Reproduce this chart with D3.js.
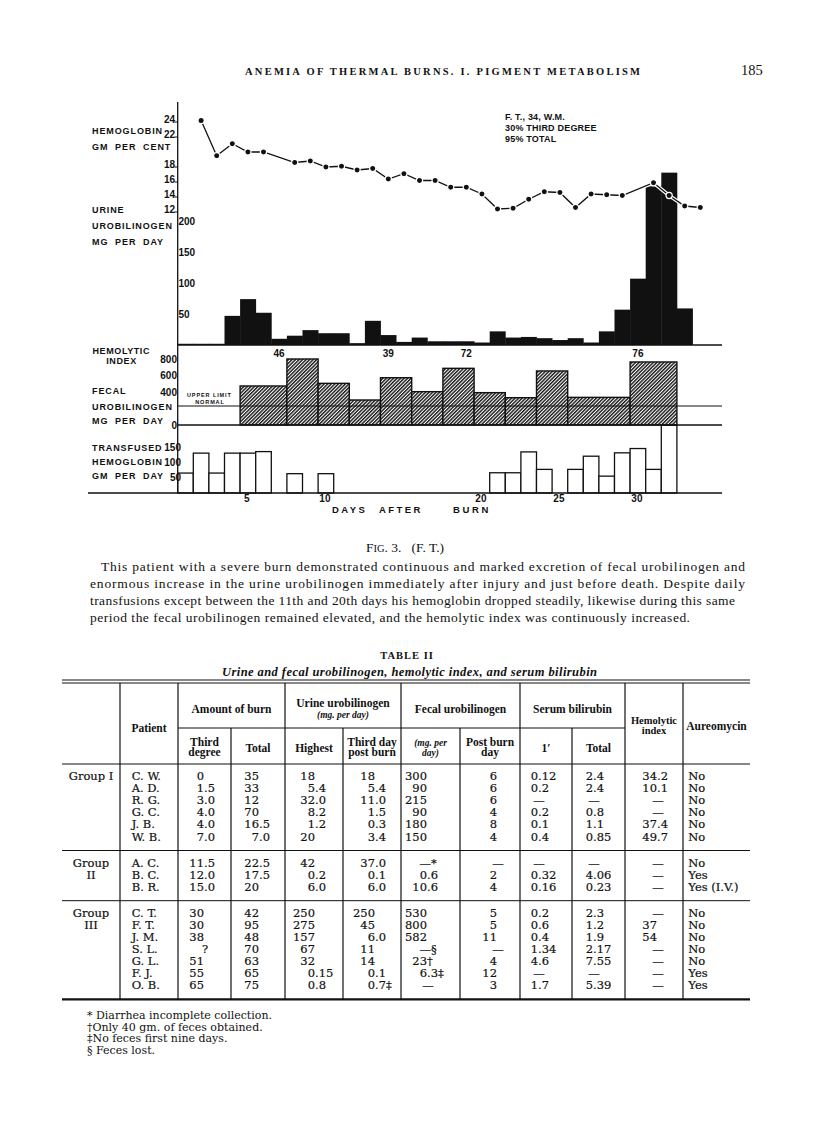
<!DOCTYPE html>
<html>
<head>
<meta charset="utf-8">
<script src="https://cdn.jsdelivr.net/npm/d3@7/dist/d3.min.js"></script>
<style>
body { margin: 0; background: #fff; }
</style>
</head>
<body>
<div id="page"></div>
<script>
// ---- Fig. 3 (F.T.) : values ----
var hbDays = [2,3,4,5,6,8,9,10,11,12,13,14,15,16,17,18,19,20,21,22,23,24,25,26,27,28,29,31,32,33,34];
var hbValues = [23.8,19.1,20.7,19.6,19.6,18.2,18.4,17.6,17.7,17.2,17.4,16.0,16.7,15.8,15.8,14.9,14.9,14.0,12.0,12.1,13.3,14.3,14.2,12.2,14.0,13.9,13.8,15.5,13.8,12.4,12.2];

var urineDays = [1,2,3,4,5,6,7,8,9,10,11,12,13,14,15,16,17,18,19,20,21,22,23,24,25,26,27,28,29,30,31,32,33];
var urineValues = [2,2,2,47,74,52,10,15,24,19,19,3,39,16,5,12,6,6,6,4,22,12,13,11,8,11,4,22,57,107,256,278,59];

var fecalStart = [5,8,10,12,14,16,18,20,22,24,26,30];
var fecalEnd = [7,9,11,13,15,17,19,21,23,25,29,32];
var fecalValues = [473,800,505,303,573,404,687,392,331,655,335,764];
var upperLimitNormal = 230;

var hemolyticDays = [7,14,19,30];
var hemolyticValues = [46,39,72,76];

var transDays = [1,2,3,4,5,6,8,10,21,22,23,24,26,27,28,29,30,31,32];
var transValues = [65,130,65,130,130,135,63,63,66,66,134,77,77,120,55,131,145,77,221];

var hbTicks = [24,22,18,16,14,12];
var urineTicks = [200,150,100,50];
var fecalTicks = [800,600,400,0];
var transTicks = [150,100,50];
var dayTicks = [5,10,20,25,30];

// ---- Table II ----
var groupNames = ['Group I','Group II','Group III'];
var groupOf = [0,0,0,0,0,0,1,1,1,2,2,2,2,2,2,2];
var patients = ['C. W.','A. D.','R. G.','G. C.','J. B.','W. B.','A. C.','B. C.','B. R.','C. T.','F. T.','J. M.','S. L.','G. L.','F. J.','O. B.'];
var burnThird = ['0','1.5','3.0','4.0','4.0','7.0','11.5','12.0','15.0','30','30','38','?','51','55','65'];
var burnTotal = ['35','33','12','70','16.5','7.0','22.5','17.5','20','42','95','48','70','63','65','75'];
var urineHighest = ['18','5.4','32.0','8.2','1.2','20','42','0.2','6.0','250','275','157','67','32','0.15','0.8'];
var urineDay3 = ['18','5.4','11.0','1.5','0.3','3.4','37.0','0.1','6.0','250','45','6.0','11','14','0.1','0.7\u2021'];
var fecalMg = ['300','90','215','90','180','150','\u2014*','0.6','10.6','530','800','582','\u2014\u00a7','23\u2020','6.3\u2021','\u2014'];
var fecalDay = ['6','6','6','4','8','4','\u2014','2','4','5','5','11','\u2014','4','12','3'];
var bili1 = ['0.12','0.2','\u2014','0.2','0.1','0.4','\u2014','0.32','0.16','0.2','0.6','0.4','1.34','4.6','\u2014','1.7'];
var biliTotal = ['2.4','2.4','\u2014','0.8','1.1','0.85','\u2014','4.06','0.23','2.3','1.2','1.9','2.17','7.55','\u2014','5.39'];
var hemolyticIdx = ['34.2','10.1','\u2014','\u2014','37.4','49.7','\u2014','\u2014','\u2014','\u2014','37','54','\u2014','\u2014','\u2014','\u2014'];
var aureomycin = ['No','No','No','No','No','No','No','Yes','Yes (I.V.)','No','No','No','No','No','Yes','Yes'];

var footnotes = ['* Diarrhea incomplete collection.', '\u2020Only 40 gm. of feces obtained.', '\u2021No feces first nine days.', '\u00a7 Feces lost.'];

var W = 816, H = 1121;
var sans = '"Liberation Sans", Arial, sans-serif';
var serif = '"Liberation Serif", "Times New Roman", serif';
var tserif = '"DejaVu Serif", serif';
var ink = '#111';

var svg = d3.select('#page').append('svg')
	.attr('width', W).attr('height', H)
	.attr('viewBox', '0 0 ' + W + ' ' + H);
svg.append('rect').attr('width', W).attr('height', H).attr('fill', '#fff');

// hatch for fecal bars
var pat = svg.append('defs').append('pattern')
	.attr('id', 'hatch')
	.attr('patternUnits', 'userSpaceOnUse')
	.attr('width', 2.5).attr('height', 2.5)
	.attr('patternTransform', 'rotate(45)');
pat.append('rect').attr('width', 2.5).attr('height', 2.5).attr('fill', '#fff');
pat.append('line').attr('x1', 0.7).attr('y1', 0).attr('x2', 0.7).attr('y2', 2.5)
	.attr('stroke', '#1a1a1a').attr('stroke-width', 1.5);

function txt(g, s, x, y, size, opts) {
	opts = opts || {};
	return g.append('text')
		.attr('x', x).attr('y', y)
		.attr('font-family', opts.family || sans)
		.attr('font-size', size)
		.attr('font-weight', opts.weight || 'bold')
		.attr('font-style', opts.style || 'normal')
		.attr('letter-spacing', opts.ls || 0)
		.attr('text-anchor', opts.anchor || 'start')
		.attr('fill', ink)
		.text(s);
}

// ---- running head ----
txt(svg, 'ANEMIA OF THERMAL BURNS.  I. PIGMENT METABOLISM', 245, 75, 10.5, {family: serif})
	.attr('textLength', 395).attr('lengthAdjust', 'spacing');
txt(svg, '185', 741, 75, 14.5, {family: serif, weight: 'normal'});

// ---- chart ----
var chart = svg.append('g');
var x = d3.scaleLinear().domain([0, 34]).range([177.7, 708.1]);
var xRight = 722;
var yHb = d3.scaleLinear().domain([12, 24]).range([209, 119]);
var yUr = d3.scaleLinear().domain([0, 200]).range([345, 221]);
var yFe = d3.scaleLinear().domain([0, 800]).range([425, 359]);
var yTr = d3.scaleLinear().domain([0, 150]).range([493, 447]);

// urine urobilinogen (black histogram)
chart.selectAll('.urine').data(urineDays).enter().append('rect')
	.attr('x', function (d) { return x(d - 1); })
	.attr('width', function (d) { return x(d) - x(d - 1) + 0.4; })
	.attr('y', function (d, i) { return yUr(urineValues[i]); })
	.attr('height', function (d, i) { return yUr(0) - yUr(urineValues[i]); })
	.attr('fill', ink);

// fecal urobilinogen (hatched blocks)
chart.selectAll('.fecal').data(fecalValues).enter().append('rect')
	.attr('x', function (d, i) { return x(fecalStart[i] - 1); })
	.attr('width', function (d, i) { return x(fecalEnd[i]) - x(fecalStart[i] - 1); })
	.attr('y', function (d) { return yFe(d); })
	.attr('height', function (d) { return yFe(0) - yFe(d); })
	.attr('fill', 'url(#hatch)')
	.attr('stroke', ink).attr('stroke-width', 1.4);

// transfused hemoglobin (open bars)
chart.selectAll('.trans').data(transDays).enter().append('rect')
	.attr('x', function (d) { return x(d - 1); })
	.attr('width', function (d) { return x(d) - x(d - 1); })
	.attr('y', function (d, i) { return yTr(transValues[i]); })
	.attr('height', function (d, i) { return yTr(0) - yTr(transValues[i]); })
	.attr('fill', '#fff')
	.attr('stroke', ink).attr('stroke-width', 1.3);

// axis and base lines
function hline(y, x1, x2, w) {
	chart.append('line').attr('x1', x1).attr('x2', x2).attr('y1', y).attr('y2', y)
		.attr('stroke', ink).attr('stroke-width', w);
}
chart.append('line').attr('x1', x(0)).attr('x2', x(0)).attr('y1', 102).attr('y2', yTr(0))
	.attr('stroke', ink).attr('stroke-width', 1.3);
hline(yUr(0), x(0), xRight, 1.4);
hline(yFe(upperLimitNormal), x(0), xRight, 1.1);
hline(yFe(0), x(0), xRight, 1.6);
hline(yTr(0), 88, xRight, 1.6);

// hemoglobin line
var hbPts = hbDays.map(function (d, i) { return [x(d - 0.5), yHb(hbValues[i])]; });
var line = d3.line();
chart.append('path').attr('d', line(hbPts)).attr('fill', 'none')
	.attr('stroke', '#fff').attr('stroke-width', 3.6);
chart.append('path').attr('d', line(hbPts)).attr('fill', 'none')
	.attr('stroke', ink).attr('stroke-width', 1.3);
chart.selectAll('.hb').data(hbPts).enter().append('circle')
	.attr('cx', function (d) { return d[0]; })
	.attr('cy', function (d) { return d[1]; })
	.attr('r', 3.1)
	.attr('fill', ink)
	.attr('stroke', '#fff').attr('stroke-width', 1.2);

// tick labels
chart.selectAll('.hbt').data(hbTicks).enter().append('text')
	.attr('x', 175).attr('y', function (d) { return yHb(d) + 3.5; })
	.attr('text-anchor', 'end').attr('font-family', sans).attr('font-weight', 'bold')
	.attr('font-size', 10).attr('fill', ink).text(function (d) { return d; });
chart.selectAll('.hbk').data(hbTicks).enter().append('line')
	.attr('x1', 174.5).attr('x2', x(0)).attr('y1', function (d) { return yHb(d) + 3; })
	.attr('y2', function (d) { return yHb(d) + 3; })
	.attr('stroke', ink).attr('stroke-width', 1);
chart.selectAll('.urt').data(urineTicks).enter().append('text')
	.attr('x', 178.5).attr('y', function (d) { return yUr(d) + 3.5; })
	.attr('font-family', sans).attr('font-weight', 'bold')
	.attr('font-size', 10).attr('fill', ink).text(function (d) { return d; });
chart.selectAll('.fet').data(fecalTicks).enter().append('text')
	.attr('x', 177).attr('y', function (d) { return yFe(d) + 3.5; })
	.attr('text-anchor', 'end').attr('font-family', sans).attr('font-weight', 'bold')
	.attr('font-size', 10).attr('fill', ink).text(function (d) { return d; });
chart.selectAll('.trt').data(transTicks).enter().append('text')
	.attr('x', 181).attr('y', function (d) { return yTr(d) + 3.5; })
	.attr('text-anchor', 'end').attr('font-family', sans).attr('font-weight', 'bold')
	.attr('font-size', 10).attr('fill', ink).text(function (d) { return d; });
chart.selectAll('.dayt').data(dayTicks).enter().append('text')
	.attr('x', function (d) { return x(d - 0.5) - 1; }).attr('y', 502)
	.attr('text-anchor', 'middle').attr('font-family', sans).attr('font-weight', 'bold')
	.attr('font-size', 10).attr('fill', ink).text(function (d) { return d; });

// hemolytic index values
chart.selectAll('.hem').data(hemolyticValues).enter().append('text')
	.attr('x', function (d, i) { return x(hemolyticDays[i] - 0.5); }).attr('y', 357)
	.attr('text-anchor', 'middle').attr('font-family', sans).attr('font-weight', 'bold')
	.attr('font-size', 10).attr('fill', ink).text(function (d) { return d; });

// left titles
var lab = 9;
[['HEMOGLOBIN', 134], ['GM  PER  CENT', 149.5],
 ['URINE', 212.5], ['UROBILINOGEN', 229.3], ['MG  PER  DAY', 245],
 ['FECAL', 394], ['UROBILINOGEN', 410], ['MG  PER  DAY', 424],
 ['TRANSFUSED', 450.7], ['HEMOGLOBIN', 464.5], ['GM  PER  DAY', 479]
].forEach(function (r) {
	txt(chart, r[0], 92, r[1], lab, {ls: 0.9}).style('white-space', 'pre');
});
txt(chart, 'HEMOLYTIC', 92.5, 354, lab, {ls: 0.6});
txt(chart, 'INDEX', 121.5, 363.5, lab, {ls: 0.6, anchor: 'middle'});
txt(chart, 'UPPER LIMIT', 187, 396.5, 5.5, {ls: 0.9});
txt(chart, 'NORMAL', 210, 403.5, 5.5, {ls: 0.9, anchor: 'middle'});
txt(chart, 'DAYS', 332, 513, 9.5, {ls: 2.4});
txt(chart, 'AFTER', 379, 513, 9.5, {ls: 2.4});
txt(chart, 'BURN', 453, 513, 9.5, {ls: 2.6});

txt(chart, 'F. T., 34, W.M.', 505, 119.5, 9, {ls: 0.2});
txt(chart, '30% THIRD DEGREE', 505, 130.5, 9, {ls: 0.2});
txt(chart, '95% TOTAL', 505, 141.5, 9, {ls: 0.2});

// ---- caption ----
var cap = svg.append('text').attr('x', 405).attr('y', 552).attr('text-anchor', 'middle')
	.attr('font-family', serif).attr('fill', ink).attr('font-size', 13.5);
cap.append('tspan').text('F');
cap.append('tspan').attr('font-size', 10.5).text('IG');
cap.append('tspan').text('. 3.   (F. T.)').style('white-space', 'pre');

var para = [
	['This patient with a severe burn demonstrated continuous and marked excretion of fecal urobilinogen and', 101, 644],
	['enormous increase in the urine urobilinogen immediately after injury and just before death.  Despite daily', 90, 655],
	['transfusions except between the 11th and 20th days his hemoglobin dropped steadily, likewise during this same', 90, 645],
	['period the fecal urobilinogen remained elevated, and the hemolytic index was continuously increased.', 90, 600]
];
para.forEach(function (p, i) {
	svg.append('text').attr('x', p[1]).attr('y', 571 + i * 17)
		.attr('font-family', serif).attr('font-size', 13.5).attr('fill', ink)
		.attr('textLength', p[2]).attr('lengthAdjust', 'spacing')
		.text(p[0]);
});

// ---- Table II ----
var tb = svg.append('g');
txt(tb, 'TABLE II', 407, 659, 10.5, {family: serif, anchor: 'middle', ls: 1});
txt(tb, 'Urine and fecal urobilinogen, hemolytic index, and serum bilirubin', 222, 676, 12.5,
	{family: serif, style: 'italic'}).attr('textLength', 375).attr('lengthAdjust', 'spacing');

var tL = 62, tR = 750;
function tline(x1, y1, x2, y2, w) {
	tb.append('line').attr('x1', x1).attr('y1', y1).attr('x2', x2).attr('y2', y2)
		.attr('stroke', ink).attr('stroke-width', w);
}
tline(tL, 680, tR, 680, 1);
tline(tL, 683, tR, 683, 1);
tline(178, 728, 625, 728, 1);
tline(tL, 764, tR, 764, 1.1);

// row baselines
var rowH = 12.1;
var rowY = [], ruleY = [], groupFirst = [];
var yCur = 764;
groupNames.forEach(function (g, gi) {
	var rows = patients.filter(function (p, i) { return groupOf[i] === gi; }).length;
	var first = yCur + 16;
	groupFirst.push(first);
	for (var r = 0; r < rows; r++) rowY.push(first + r * rowH);
	yCur = first + (rows - 1) * rowH + 10;
	ruleY.push(yCur);
});
ruleY.forEach(function (y, i) {
	tline(tL, y, tR, y, i === ruleY.length - 1 ? 2.2 : 1);
});
var bottom = ruleY[ruleY.length - 1];
[120, 178, 285, 401, 520, 625, 683].forEach(function (vx) { tline(vx, 683, vx, bottom, 1.2); });
[231, 343, 460, 572].forEach(function (vx) { tline(vx, 728, vx, bottom, 1.2); });

// header
var hf = {family: serif, anchor: 'middle'};
var hs = 11.5;
[['Patient', 149, 732], ['Amount of burn', 231.5, 713], ['Third', 204.5, 746], ['degree', 204.5, 756],
 ['Total', 258, 751.5], ['Urine urobilinogen', 343, 707], ['Highest', 314, 751.5],
 ['Third day', 372, 746], ['post burn', 372, 756], ['Fecal urobilinogen', 460.5, 713],
 ['Post burn', 490, 746], ['day', 490, 756], ['Serum bilirubin', 572.5, 713],
 ['1\u2032', 546, 751.5], ['Total', 598.5, 751.5], ['Aureomycin', 716.5, 729.5]
].forEach(function (h) { txt(tb, h[0], h[1], h[2], hs, hf); });
txt(tb, 'Hemolytic', 654, 723.5, 10.5, hf);
txt(tb, 'index', 654, 734, 10.5, hf);
txt(tb, '(mg. per day)', 343, 718, 9.5, {family: serif, anchor: 'middle', style: 'italic'});
txt(tb, '(mg. per', 430.5, 745.5, 9.5, {family: serif, anchor: 'middle', style: 'italic'});
txt(tb, 'day)', 430.5, 756, 9.5, {family: serif, anchor: 'middle', style: 'italic'});

// body
var bs = 11.5;
function cell(s, px, y, anchor) {
	return tb.append('text').attr('x', px).attr('y', y)
		.attr('font-family', tserif).attr('font-size', bs).attr('fill', ink)
		.attr('stroke', ink).attr('stroke-width', 0.2)
		.attr('text-anchor', anchor || 'start').text(s);
}
// decimal-aligned numeric cell
function numCell(s, dx, y) {
	var m = /^(\d+)(\.\d+)?(.*)$/.exec(s);
	if (!m) { cell(s, dx + 1, y, 'middle'); return; }
	cell(m[1], dx, y, 'end');
	var rest = (m[2] || '') + m[3];
	if (rest) cell(rest, dx, y, 'start');
}
groupNames.forEach(function (g, gi) {
	var parts = g.split(' ');
	if (gi === 0) {
		cell(g, 91, groupFirst[gi], 'middle');
	} else {
		cell(parts[0], 91, groupFirst[gi], 'middle');
		cell(parts[1], 91, groupFirst[gi] + rowH, 'middle');
	}
});
var numCols = [[burnThird, 204], [burnTotal, 259], [urineHighest, 315], [urineDay3, 375],
	[fecalMg, 427], [fecalDay, 497], [bili1, 538], [biliTotal, 593], [hemolyticIdx, 657]];
patients.forEach(function (p, i) {
	cell(p, 131.7, rowY[i]);
	numCols.forEach(function (c) { numCell(c[0][i], c[1], rowY[i]); });
	cell(aureomycin[i], 688.3, rowY[i]);
});

footnotes.forEach(function (f, i) {
	tb.append('text').attr('x', 87).attr('y', 1019 + i * 11.6)
		.attr('font-family', tserif).attr('font-size', 11).attr('fill', ink)
		.style('white-space', 'pre').text(f);
});
</script>
</body>
</html>
